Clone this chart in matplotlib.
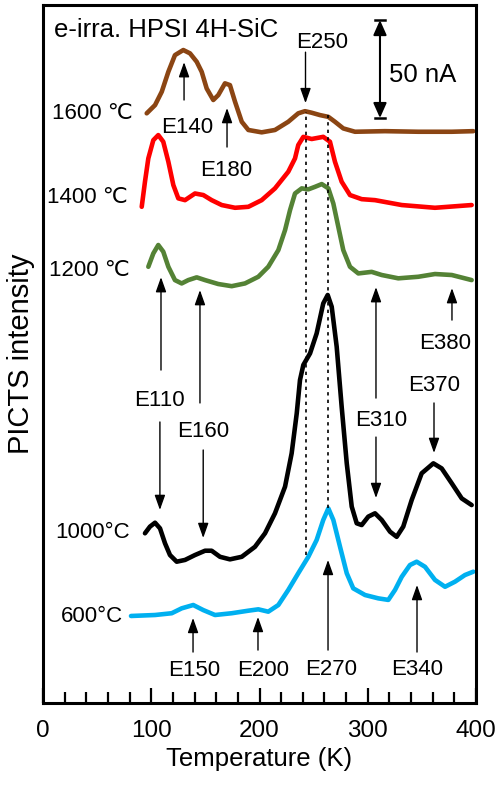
import matplotlib
matplotlib.use("Agg")
import matplotlib.pyplot as plt
from matplotlib.ticker import MultipleLocator

plt.rcParams['font.family'] = ['Liberation Sans', 'DejaVu Sans']

# temperature (K) and PICTS signal (nA, curves stacked with offsets)
t_1600 = [95.8, 103.5, 109.7, 115.8, 121.9, 129.6, 135.8, 142.0, 146.6, 151.2,
          157.3, 161.9, 168.1, 172.7, 177.4, 183.6, 189.7, 202.0, 214.3, 226.6,
          235.8, 242.0, 248.2, 255.9, 263.6, 269.7, 277.4, 288.2, 315.9, 346.7,
          377.6, 397.5]
s_1600 = [300.9, 305.1, 311.9, 322.1, 330.6, 333.2, 331.5, 327.2, 322.1, 313.6,
          307.7, 310.2, 316.2, 315.3, 306.8, 296.6, 292.4, 291.2, 292.4, 296.6,
          300.9, 302.0, 301.2, 300.0, 299.1, 296.6, 293.2, 291.5, 291.8, 291.5,
          291.5, 291.8]

t_1400 = [91.2, 94.2, 97.3, 101.9, 106.5, 111.1, 115.8, 120.4, 125.0, 131.2,
          140.4, 148.1, 155.8, 165.1, 177.4, 189.7, 202.0, 214.3, 226.6, 232.8,
          235.8, 240.5, 248.2, 258.9, 265.1, 269.7, 275.9, 283.6, 294.4, 306.7,
          331.4, 362.1, 396.0]
s_1400 = [253.2, 266.0, 277.9, 287.2, 289.8, 286.4, 276.2, 264.3, 257.5, 256.6,
          260.0, 259.2, 256.6, 254.1, 252.7, 253.2, 256.6, 262.6, 271.1, 277.9,
          284.7, 288.9, 287.8, 288.9, 286.4, 276.2, 266.0, 259.2, 257.1, 256.6,
          254.1, 252.7, 254.1]

t_1200 = [97.3, 101.9, 106.5, 111.1, 115.8, 121.9, 128.1, 134.2, 142.0, 149.7,
          161.9, 174.3, 186.6, 198.9, 208.1, 217.4, 223.6, 228.2, 232.8, 239.0,
          245.1, 251.3, 257.5, 263.6, 268.2, 272.8, 277.4, 283.6, 291.3, 303.6,
          312.9, 328.2, 346.7, 362.1, 377.6, 396.0]
s_1200 = [222.6, 229.4, 233.7, 230.3, 222.6, 215.8, 214.1, 215.8, 217.2, 215.8,
          213.8, 212.7, 214.1, 217.5, 222.6, 231.1, 241.3, 251.5, 260.0, 262.6,
          262.1, 263.4, 264.8, 262.6, 254.9, 243.0, 231.1, 222.6, 219.2, 220.0,
          218.4, 216.7, 217.5, 218.9, 218.4, 215.8]

t_1000 = [94.2, 98.8, 103.5, 108.1, 112.7, 117.3, 123.5, 131.2, 140.4, 149.7,
          155.8, 163.5, 172.7, 183.6, 195.8, 205.1, 214.3, 223.6, 229.7, 234.4,
          237.4, 240.5, 246.7, 252.8, 258.9, 263.0, 266.7, 271.3, 275.9, 280.6,
          285.2, 289.8, 294.4, 300.5, 306.7, 312.9, 320.6, 326.7, 332.8, 340.6,
          349.8, 360.6, 368.3, 377.6, 386.8, 396.0]
s_1000 = [86.6, 90.0, 92.0, 89.1, 81.5, 75.5, 72.1, 73.0, 75.5, 77.7, 77.7, 74.6,
          73.3, 74.6, 79.7, 86.6, 96.8, 110.4, 127.4, 147.8, 164.8, 172.5, 178.4,
          188.6, 203.9, 208.2, 202.2, 181.8, 151.2, 122.3, 100.2, 91.7, 90.8,
          95.1, 96.8, 93.4, 87.4, 84.8, 90.0, 103.6, 117.2, 122.3, 119.7, 112.1,
          104.4, 101.0]

t_600 = [81.3, 103.5, 118.9, 128.1, 138.8, 148.1, 158.9, 174.3, 189.7, 198.9,
         208.1, 217.4, 226.6, 235.8, 245.1, 252.8, 258.9, 263.6, 268.2, 274.4,
         280.6, 286.6, 297.5, 309.7, 319.0, 325.2, 331.4, 339.0, 345.2, 352.9,
         362.1, 371.4, 380.6, 389.8, 397.5]
s_600 = [44.4, 44.9, 45.8, 48.3, 50.0, 47.4, 44.9, 45.8, 47.1, 47.8, 46.6, 50.0,
         57.7, 66.2, 74.6, 83.2, 93.4, 99.3, 93.4, 79.7, 66.2, 58.5, 55.1, 53.4,
         52.6, 57.7, 64.4, 70.4, 72.1, 69.5, 62.8, 59.3, 61.9, 65.3, 67.0]

curves = [
    (t_1600, s_1600, '#8b4513', '1600 \u2103', 83, 301.0),
    (t_1400, s_1400, '#ff0000', '1400 \u2103', 78.5, 258.2),
    (t_1200, s_1200, '#548235', '1200 \u2103', 80, 220.9),
    (t_1000, s_1000, '#000000', '1000\u00b0C', 80, 87.2),
    (t_600, s_600, '#00b0f0', '600\u00b0C', 74, 43.9),
]

# label, text x, text y, arrows as (tail x, tail y, tip x, tip y)
labels = [
    ('E140', 133, 293.9, [(130.3, 307.7, 130.3, 327.0)]),
    ('E180', 169, 271.9, [(170, 283.7, 170, 303.6)]),
    ('E250', 257.7, 337.2, [(242.5, 332.1, 242.5, 306.1)]),
    ('E110', 108, 154.6, [(109, 169.9, 109, 217.3), (108, 143.4, 108, 98.5)]),
    ('E160', 148, 138.3, [(145, 153.1, 145, 210.7), (148, 129.1, 148, 84.2)]),
    ('E380', 371.4, 183.7, [(377.8, 195.4, 377.8, 211.7)]),
    ('E370', 361.2, 162.2, [(361.2, 153.1, 361.2, 127.6)]),
    ('E310', 312.2, 144.4, [(307.6, 155.6, 307.6, 212.2), (307.6, 135.7, 307.6, 104.6)]),
    ('E150', 139.5, 16.8, [(138.6, 26.0, 138.6, 43.4)]),
    ('E200', 203.2, 16.8, [(198.6, 27.0, 198.6, 43.9)]),
    ('E270', 266, 17.3, [(263.3, 27.0, 263.3, 73.0)]),
    ('E340', 345.5, 17.3, [(345.5, 26.0, 345.5, 60.2)]),
]

# dotted guides at the two components of the E250/E270 band
guide_t = [242.7, 263.0]
guide_lo = [75.5, 99.5]
guide_hi = [301.5, 300.0]

fig = plt.figure(figsize=(5, 7.93), dpi=100)
ax = fig.add_axes([0.086, 0.1135, 0.866, 0.880])

for t, s, c, name, lx, ly in curves:
    ax.plot(t, s, color=c, lw=3.3, solid_capstyle='round', solid_joinstyle='round', zorder=2)
    ax.text(lx, ly, name, ha='right', va='center', fontsize=16)

for x, lo, hi in zip(guide_t, guide_lo, guide_hi):
    ax.plot([x, x], [lo, hi], color='k', lw=1.2, ls=(0, (2, 2.5)), zorder=3)

arrow = dict(arrowstyle='-|>,head_length=0.45,head_width=0.16', color='k', lw=1,
             shrinkA=0, shrinkB=0, mutation_scale=20)
for name, tx, ty, arrs in labels:
    ax.text(tx, ty, name, ha='center', va='center', fontsize=16)
    for x0, y0, x1, y1 in arrs:
        ax.annotate('', xy=(x1, y1), xytext=(x0, y0), arrowprops=arrow)

# 50 nA scale bar
bar_x, bar_lo = 311.3, 298.5
bar_hi = bar_lo + 50
ax.annotate('', xy=(bar_x, bar_hi), xytext=(bar_x, bar_lo),
            arrowprops=dict(arrowstyle='<|-|>,head_length=0.45,head_width=0.2', color='k',
                            lw=1.5, shrinkA=0, shrinkB=0, mutation_scale=20))
ax.plot([bar_x - 4.5, bar_x + 4.5], [bar_hi, bar_hi], color='k', lw=1.8)
ax.plot([bar_x - 4.5, bar_x + 4.5], [bar_lo, bar_lo], color='k', lw=1.8)
ax.text(351, 320.4, '50 nA', ha='center', va='center', fontsize=18.5)

ax.text(10.2, 343.4, 'e-irra. HPSI 4H-SiC', ha='left', va='center', fontsize=18.5)

ax.set_xlim(0, 400)
ax.set_ylim(0, 356.1)
ax.xaxis.set_major_locator(MultipleLocator(100))
ax.xaxis.set_minor_locator(MultipleLocator(20))
ax.tick_params(axis='x', which='major', direction='in', length=10.5, width=1.6,
               labelsize=17.5, pad=12)
ax.tick_params(axis='x', which='minor', direction='in', length=8, width=1.6)
ax.set_yticks([])
for sp in ax.spines.values():
    sp.set_linewidth(2.2)

ax.set_xlabel('Temperature (K)', fontsize=18.5, labelpad=4)
ax.set_ylabel('PICTS intensity', fontsize=21, labelpad=6)

fig.savefig('out.png', dpi=100)
